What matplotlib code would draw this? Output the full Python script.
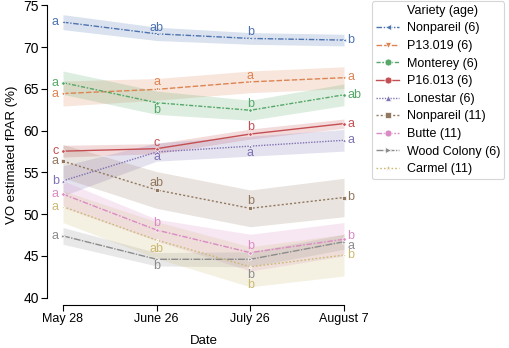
import matplotlib
matplotlib.use("Agg")
import matplotlib.pyplot as plt
from matplotlib.lines import Line2D
import numpy as np

plt.rcParams['font.family'] = ['Liberation Sans', 'DejaVu Sans']

dates = ["May 28", "June 26", "July 26", "August 7"]
varieties = ["Nonpareil (6)", "P13.019 (6)", "Monterey (6)", "P16.013 (6)", "Lonestar (6)",
             "Nonpareil (11)", "Butte (11)", "Wood Colony (6)", "Carmel (11)"]

nonpareil6 = [73.0, 71.6, 71.05, 70.85]
p13019 = [64.45, 64.95, 65.85, 66.35]
monterey = [65.75, 63.35, 62.45, 64.3]
p16013 = [57.55, 57.85, 59.6, 60.85]
lonestar = [54.0, 57.45, 58.15, 58.85]
nonpareil11 = [56.35, 52.9, 50.7, 52.0]
butte = [52.4, 48.1, 45.4, 47.0]
woodcolony = [47.4, 44.6, 44.6, 46.7]
carmel = [50.9, 46.9, 43.7, 45.1]

nonpareil6_ci = [0.9, 0.8, 0.7, 0.7]
p13019_ci = [1.5, 1.3, 1.3, 1.3]
monterey_ci = [1.4, 1.4, 1.2, 1.3]
p16013_ci = [0.7, 0.6, 0.6, 0.55]
lonestar_ci = [1.8, 1.1, 1.2, 1.3]
nonpareil11_ci = [2.0, 2.2, 2.2, 2.3]
butte_ci = [1.6, 1.3, 2.2, 2.0]
woodcolony_ci = [1.0, 0.8, 0.9, 0.9]
carmel_ci = [1.9, 2.2, 2.4, 2.5]

nonpareil6_letters = ["a", "ab", "b", "b"]
p13019_letters = ["a", "a", "a", "a"]
monterey_letters = ["a", "b", "b", "ab"]
p16013_letters = ["c", "c", "b", "a"]
lonestar_letters = ["b", "a", "a", "a"]
nonpareil11_letters = ["a", "ab", "b", "b"]
butte_letters = ["a", "b", "b", "b"]
woodcolony_letters = ["a", "b", "b", "a"]
carmel_letters = ["a", "ab", "b", "b"]

values = [nonpareil6, p13019, monterey, p16013, lonestar, nonpareil11, butte, woodcolony, carmel]
cis = [nonpareil6_ci, p13019_ci, monterey_ci, p16013_ci, lonestar_ci, nonpareil11_ci, butte_ci, woodcolony_ci, carmel_ci]
letters = [nonpareil6_letters, p13019_letters, monterey_letters, p16013_letters, lonestar_letters,
           nonpareil11_letters, butte_letters, woodcolony_letters, carmel_letters]

# styles
colors = ["#4C72B0", "#DD8452", "#55A868", "#C44E52", "#8172B3", "#937860", "#DA8BC3", "#8C8C8C", "#CCB974"]
dashes = [(4, 1.2, 1, 1.2), (4, 1.5), (3, 1.2, 1.2, 1.2), None, (1, 1), (1.5, 1.5), (4, 1.2, 1.2, 1.2),
          (5, 1, 1, 1), (1.2, 1.5)]
markers = ["<", "v", "o", "o", "^", "s", "o", ">", "*"]
# vertical label offsets (pixels) for middle dates
mid_dy = [[6, 6], [7, 6], [-7, 6], [6, 7], [-5, -7], [7, 7], [7, 7], [-7, -16], [-9, -18]]
right_dy = [0, 1, 0, 0, 0, 0, 3, -4, 0]

fig = plt.figure(figsize=(5.10, 3.48), dpi=100)
ax = fig.add_axes([47/510, 43/348, 313/510, 301/348])
x = np.arange(len(dates))

for vals, ci, lets, c, d, m, mdy, rdy in zip(values, cis, letters, colors, dashes, markers, mid_dy, right_dy):
    vals = np.array(vals); ci = np.array(ci)
    ax.fill_between(x, vals - ci, vals + ci, color=c, alpha=0.2, linewidth=0)
    ln, = ax.plot(x, vals, color=c, lw=1.0, marker=m, markersize=2.5, markeredgewidth=0.5,
                  markeredgecolor='white')
    if d is not None:
        ln.set_dashes(d)
    for i, (xv, yv, t) in enumerate(zip(x, vals, lets)):
        if i == 0:
            ax.annotate(t, (xv, yv), xytext=(-4, 0), textcoords='offset pixels', ha='right',
                        va='center', color=c, fontsize=9)
        elif i == len(x) - 1:
            ax.annotate(t, (xv, yv), xytext=(3, rdy), textcoords='offset pixels', ha='left',
                        va='center', color=c, fontsize=9)
        else:
            ax.annotate(t, (xv, yv), xytext=(0, mdy[i - 1]), textcoords='offset pixels', ha='center',
                        va='center', color=c, fontsize=9)

ax.set_xlim(-16/93.67, 3 + 16/93.67)
ax.set_ylim(40 - 7.3/8.35, 40 + (305 - 4)/8.35 - 7.3/8.35)
ax.set_xticks(x)
ax.set_xticklabels(dates, fontsize=9)
ax.set_yticks(np.arange(40, 76, 5))
ax.tick_params(axis='y', labelsize=10, length=4, width=0.8, pad=2)
ax.tick_params(axis='x', length=4, width=0.8, pad=2)
for s in ['top', 'right']:
    ax.spines[s].set_visible(False)
ax.spines['bottom'].set_bounds(0, 3)
ax.spines['left'].set_bounds(40, 75)
ax.set_ylabel("VO estimated fPAR (%)", fontsize=9.5, labelpad=4)
ax.set_xlabel("Date", fontsize=9.5, labelpad=7)

handles = [Line2D([], [], linestyle='none', marker=None)]
labels = ["Variety (age)"]
for v, c, d, m in zip(varieties, colors, dashes, markers):
    h = Line2D([], [], color=c, lw=1.0, marker=m, markersize=5, markeredgewidth=0.5,
               markeredgecolor='white')
    if d is not None:
        h.set_dashes(d)
    handles.append(h)
    labels.append(v)
leg = fig.legend(handles, labels, loc='upper left', bbox_to_anchor=(372/510, 1 - 1/348),
                 fontsize=9, frameon=True, handlelength=1.9, labelspacing=0.45,
                 borderpad=0.3, handletextpad=0.6, borderaxespad=0, fancybox=True)
leg.get_frame().set_edgecolor('#cccccc')
leg.get_frame().set_linewidth(0.8)

fig.savefig("out.png", dpi=100)
